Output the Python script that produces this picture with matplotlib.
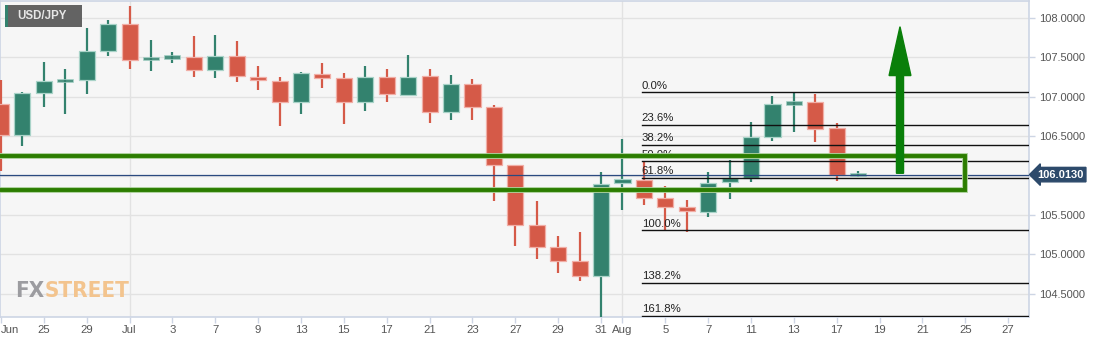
import matplotlib
matplotlib.use("Agg")
import matplotlib.pyplot as plt
from matplotlib.patches import Rectangle, FancyArrow
from matplotlib import font_manager
import pandas as pd

# ---------------- data ----------------
symbol = "USD/JPY"
trading_days = pd.bdate_range("2020-06-23", "2020-08-27")

opens  = [106.91, 106.52, 107.05, 107.20, 107.21, 107.58, 107.92, 107.48, 107.50, 107.51,
          107.34, 107.52, 107.25, 107.20, 106.93, 107.29, 107.24, 106.93, 107.25, 107.02,
          107.26, 106.81, 107.16, 106.87, 106.13, 105.37, 105.09, 104.92, 104.73, 105.91,
          105.94, 105.72, 105.60, 105.54, 105.92, 105.97, 106.49, 106.92, 106.93, 106.60,
          106.005]
highs  = [107.21, 107.06, 107.44, 107.35, 107.87, 107.97, 108.15, 107.72, 107.57, 107.77,
          107.78, 107.71, 107.39, 107.25, 107.31, 107.43, 107.30, 107.39, 107.35, 107.53,
          107.35, 107.28, 107.23, 106.90, 106.14, 105.68, 105.23, 105.28, 106.05, 106.46,
          106.19, 105.87, 105.69, 106.05, 106.20, 106.68, 107.01, 107.06, 107.04, 106.67,
          106.06]
lows   = [106.06, 106.38, 106.87, 106.78, 107.04, 107.52, 107.35, 107.33, 107.43, 107.25,
          107.24, 107.19, 107.09, 106.63, 106.78, 107.11, 106.65, 106.82, 106.93, 107.01,
          106.67, 106.71, 106.71, 105.68, 105.11, 104.94, 104.76, 104.66, 104.10, 105.56,
          105.63, 105.31, 105.28, 105.47, 105.70, 105.92, 106.44, 106.55, 106.43, 105.93,
          105.98]
closes = [106.52, 107.05, 107.20, 107.21, 107.58, 107.92, 107.47, 107.49, 107.51, 107.34,
          107.52, 107.26, 107.21, 106.93, 107.30, 107.24, 106.93, 107.25, 107.04, 107.25,
          106.81, 107.16, 106.87, 106.13, 105.37, 105.09, 104.92, 104.73, 105.89, 105.96,
          105.72, 105.60, 105.55, 105.91, 105.97, 106.49, 106.91, 106.925, 106.59, 106.01,
          106.013]

last_price = 106.013

tick_dates  = ["2020-06-23", "2020-06-25", "2020-06-29", "2020-07-01", "2020-07-03",
               "2020-07-07", "2020-07-09", "2020-07-13", "2020-07-15", "2020-07-17",
               "2020-07-21", "2020-07-23", "2020-07-27", "2020-07-29", "2020-07-31",
               "2020-08-03", "2020-08-05", "2020-08-07", "2020-08-11", "2020-08-13",
               "2020-08-17", "2020-08-19", "2020-08-21", "2020-08-25", "2020-08-27"]
tick_labels = ["Jun", "25", "29", "Jul", "3", "7", "9", "13", "15", "17", "21", "23", "27",
               "29", "31", "Aug", "5", "7", "11", "13", "17", "19", "21", "25", "27"]
month_starts = ["2020-07-01", "2020-08-03"]

y_ticks = [104.5, 105.0, 105.5, 106.0, 106.5, 107.0, 107.5, 108.0]

fib_high = 107.057
fib_low = 105.306
fib_levels = [0.0, 23.6, 38.2, 50.0, 61.8, 100.0, 138.2, 161.8]
fib_start = "2020-08-04"

zone_top = 106.249
zone_bottom = 105.817
zone_end = "2020-08-25"

arrow_date = "2020-08-20"
arrow_from = 106.03
arrow_to = 107.89

# ---------------- style ----------------
GREEN = "#33826e"
GREEN_EDGE = "#a9d3c8"
RED = "#d55a48"
RED_EDGE = "#f1aea6"
BG = "#f6f6f6"
GRID = "#e2e2e2"
BORDER = "#cdd5e4"


def has_font(name):
    try:
        font_manager.findfont(font_manager.FontProperties(family=name),
                              fallback_to_default=False)
        return True
    except Exception:
        return False


WM_FONT = "Liberation Sans Narrow" if has_font("Liberation Sans Narrow") else "DejaVu Sans"


def pos(d):
    return trading_days.get_loc(pd.Timestamp(d))


fig = plt.figure(figsize=(11.06, 3.43), dpi=100)
fig.patch.set_facecolor("white")
ax = fig.add_axes([0.0, 26 / 343, 1029 / 1106, 316 / 343])
ax.set_facecolor(BG)

xmin, xmax = -0.047, 47.97
ymin, ymax = 104.206, 108.216
ax.set_xlim(xmin, xmax)
ax.set_ylim(ymin, ymax)

# grid
for yt in y_ticks:
    ax.axhline(yt, color=GRID, lw=1.0, zorder=0)
for m in month_starts:
    ax.axvline(pos(m), color=GRID, lw=1.0, zorder=0)

# candles
bw = 0.75
for i, (o, h, l, c) in enumerate(zip(opens, highs, lows, closes)):
    up = c >= o
    col = GREEN if up else RED
    edge = GREEN_EDGE if up else RED_EDGE
    ax.plot([i, i], [l, h], color=col, lw=1.6, zorder=3, solid_capstyle="butt")
    bottom = min(o, c)
    height = abs(c - o)
    if height < 0.03:
        bottom = (o + c) / 2 - 0.02
        height = 0.04
        ax.add_patch(Rectangle((i - bw / 2, bottom), bw, height, facecolor=col,
                               edgecolor=edge, lw=0.6, alpha=0.85, zorder=4))
    else:
        ax.add_patch(Rectangle((i - bw / 2, bottom), bw, height, facecolor=col,
                               edgecolor=edge, lw=0.9, zorder=4))

# current price line
ax.axhline(last_price, color="#2b4a80", lw=0.9, zorder=5)

# fibonacci levels
fx = pos(fib_start) - 0.1
for lv in fib_levels:
    yv = fib_high - (fib_high - fib_low) * lv / 100.0
    ax.plot([fx, xmax], [yv, yv], color="#111111", lw=1.0, zorder=6)
    ax.text(fx, yv + 0.022, f"{lv:.1f}%", fontsize=8.2, family="Liberation Sans",
            color="#222222", ha="left", va="bottom", zorder=6)

# green zone box
ze = pos(zone_end)
ax.add_patch(Rectangle((xmin - 1, zone_bottom), ze - xmin + 1, zone_top - zone_bottom,
                       fill=False, edgecolor="#a9cf98", lw=4.2, zorder=7))
ax.add_patch(Rectangle((xmin - 1, zone_bottom), ze - xmin + 1, zone_top - zone_bottom,
                       fill=False, edgecolor="#2c7d00", lw=2.8, zorder=7))

# arrow
arr_x = pos(arrow_date) - 0.05
ax.add_patch(FancyArrow(arr_x, arrow_from, 0, arrow_to - arrow_from, width=0.33,
                        head_width=1.02, head_length=0.62, length_includes_head=True,
                        color="#0a7f0a", zorder=8))

# axes styling
ax.set_xticks([pos(d) for d in tick_dates])
ax.set_xticklabels(tick_labels)
ax.yaxis.tick_right()
ax.set_yticks(y_ticks)
ax.set_yticklabels([f"{v:.4f}" for v in y_ticks])
ax.tick_params(axis="x", length=4, width=1, color=BORDER, labelsize=8.2,
               labelcolor="#555555", pad=2)
ax.tick_params(axis="y", length=4, width=1, color=BORDER, labelsize=8.0,
               labelcolor="#555555", pad=3)
for lab in ax.get_xticklabels() + ax.get_yticklabels():
    lab.set_family("Liberation Sans")
ax.get_xticklabels()[0].set_horizontalalignment("left")
for s in ["top", "bottom", "left", "right"]:
    ax.spines[s].set_color(BORDER)
    ax.spines[s].set_linewidth(1.2)

# last price tag
ax.annotate(f"{last_price:.4f}", xy=(1.0, last_price), xycoords=("axes fraction", "data"),
            xytext=(6, 0), textcoords="offset points", ha="left", va="center",
            fontsize=8.0, family="Liberation Sans", weight="bold", color="white",
            bbox=dict(boxstyle="larrow,pad=0.2", fc="#2d4a6b", ec="#2d4a6b"),
            annotation_clip=False, zorder=10)

# symbol tag
fig.patches.append(Rectangle((5 / 1106, 1 - 27 / 343), 77 / 1106, 22 / 343,
                             transform=fig.transFigure, facecolor="#636363",
                             edgecolor="none", zorder=10))
fig.patches.append(Rectangle((5 / 1106, 1 - 27 / 343), 2.5 / 1106, 22 / 343,
                             transform=fig.transFigure, facecolor="#33826e",
                             edgecolor="none", zorder=11))
fig.text(17 / 1106, 1 - 16 / 343, symbol, fontsize=8.3, family="Liberation Sans",
         weight="bold", color="#e6e6e6", ha="left", va="center", zorder=12)

# watermark
wm_y = 1 - 297 / 343
wm_size = 20 if WM_FONT != "DejaVu Sans" else 16
t1 = fig.text(15 / 1106, wm_y, "FX", fontsize=wm_size, family=WM_FONT,
              stretch="condensed", weight="bold", color="#9c9ca0", ha="left",
              va="baseline", zorder=2)
fig.canvas.draw()
bb = t1.get_window_extent()
fig.text(bb.x1 / 1106, wm_y, "STREET", fontsize=wm_size, family=WM_FONT,
         stretch="condensed", weight="bold", color="#f3c48e", ha="left",
         va="baseline", zorder=2)

fig.savefig("out.png", dpi=100, facecolor="white")
